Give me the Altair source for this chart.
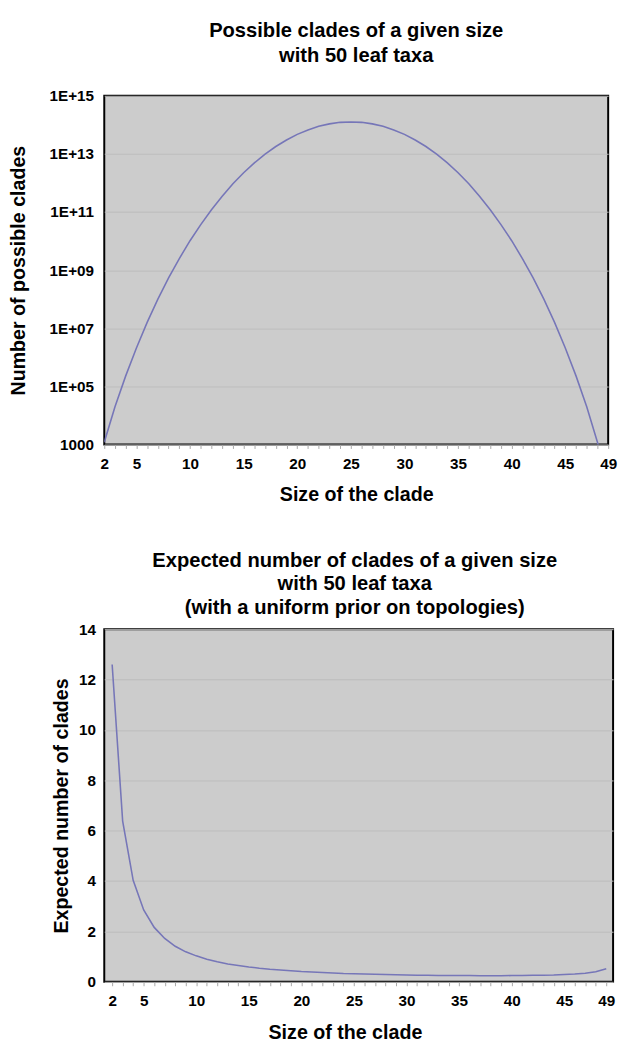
import altair as alt
import pandas as pd

# ---- data ----
clade_size = list(range(2, 50))

possible_clades = [
    1.2e3, 2.0e4, 2.3e5, 2.1e6, 1.6e7, 1.0e8, 5.4e8, 2.5e9, 1.03e10, 3.7e10,
    1.2e11, 3.5e11, 9.4e11, 2.25e12, 4.9e12, 9.8e12, 1.8e13, 3.0e13, 4.7e13,
    6.7e13, 8.9e13, 1.08e14, 1.22e14, 1.26e14,
    1.22e14, 1.08e14, 8.9e13, 6.7e13, 4.7e13, 3.0e13, 1.8e13, 9.8e12, 4.9e12,
    2.25e12, 9.4e11, 3.5e11, 1.2e11, 3.7e10, 1.03e10, 2.5e9, 5.4e8, 1.0e8,
    1.6e7, 2.1e6, 2.3e5, 2.0e4, 1.2e3, 5.0e1,
]

expected_clades = [
    12.6, 6.38, 4.03, 2.85, 2.16, 1.72, 1.41, 1.19, 1.03, 0.90, 0.80, 0.71,
    0.65, 0.59, 0.54, 0.50, 0.47, 0.44, 0.41, 0.39, 0.37, 0.35, 0.33, 0.32,
    0.31, 0.30, 0.29, 0.28, 0.27, 0.26, 0.26, 0.25, 0.25, 0.25, 0.25, 0.24,
    0.24, 0.24, 0.25, 0.25, 0.26, 0.26, 0.27, 0.29, 0.31, 0.34, 0.40, 0.52,
]

x_label_values = [2, 5, 10, 15, 20, 25, 30, 35, 40, 45, 49]
top_y_ticks = [1e3, 1e5, 1e7, 1e9, 1e11, 1e13, 1e15]
bottom_y_ticks = [0, 2, 4, 6, 8, 10, 12, 14]

top_title = ["Possible clades of a given size", "with 50 leaf taxa"]
bottom_title = ["Expected number of clades of a given size", "with 50 leaf taxa",
                "(with a uniform prior on topologies)"]

df = pd.DataFrame({"size": clade_size, "possible": possible_clades,
                   "expected": expected_clades})

FONT = "Liberation Sans"
LINE = "#7676b8"
GRID = "#bdbdbd"

x_label_expr = f"indexof({x_label_values}, datum.value) >= 0 ? datum.label : ''"

TOP_W, TOP_H = 513, 355
BOT_W, BOT_H = 518, 359


def x_axis(**kw):
    return alt.Axis(values=clade_size, labelExpr=x_label_expr, format="d",
                    title="Size of the clade", grid=False, domain=False,
                    ticks=True, tickColor="#a8a8a8", tickSize=4,
                    labelPadding=8, titlePadding=14, labelOverlap=False,
                    labelFlush=False, **kw)


top = alt.Chart(df).mark_line(color=LINE, strokeWidth=1.6, clip=True).encode(
    x=alt.X("size:Q", scale=alt.Scale(domain=[2, 49], nice=False, zero=False),
            axis=x_axis()),
    y=alt.Y("possible:Q",
            scale=alt.Scale(type="log", domain=[1e3, 1e15], nice=False),
            axis=alt.Axis(values=top_y_ticks,
                          labelExpr="datum.value <= 1000 ? '1000' : '1E+' + format(round(log(datum.value)/LN10), '02d')",
                          title="Number of possible clades", grid=True,
                          gridColor=GRID, domain=False, ticks=False,
                          labelPadding=11, titleX=-77, titleY=TOP_H / 2)),
).properties(
    width=TOP_W, height=TOP_H,
    title=alt.Title(top_title, anchor="middle", frame="group", offset=23,
                    lineHeight=25),
)

bottom = alt.Chart(df).mark_line(color=LINE, strokeWidth=1.6, clip=True).encode(
    x=alt.X("size:Q", scale=alt.Scale(domain=[1.25, 49.65], nice=False, zero=False),
            axis=x_axis(titleX=245)),
    y=alt.Y("expected:Q", scale=alt.Scale(domain=[0, 14], nice=False),
            axis=alt.Axis(values=bottom_y_ticks, title="Expected number of clades",
                          grid=True, gridColor=GRID, domain=False, ticks=False,
                          labelPadding=9, titleX=-33, titleY=BOT_H / 2)),
).properties(
    width=BOT_W, height=BOT_H,
    title=alt.Title(bottom_title, anchor="middle", frame="group", offset=4,
                    lineHeight=24, dx=-4),
)

chart = alt.vconcat(top, bottom, spacing=188, bounds="flush").properties(
    padding={"left": 0, "top": 3, "right": 0, "bottom": -5}
).configure_view(
    fill="#cccccc", stroke="black", strokeWidth=2
).configure_axis(
    labelFont=FONT, titleFont=FONT, labelFontWeight="bold",
    titleFontWeight="bold", labelColor="black", titleColor="black",
    labelFontSize=15.5, titleFontSize=20,
).configure_title(
    font=FONT, fontSize=20.5, fontWeight="bold", color="black"
)

chart.save("out.html", embed_options={"renderer": "svg", "actions": False})
